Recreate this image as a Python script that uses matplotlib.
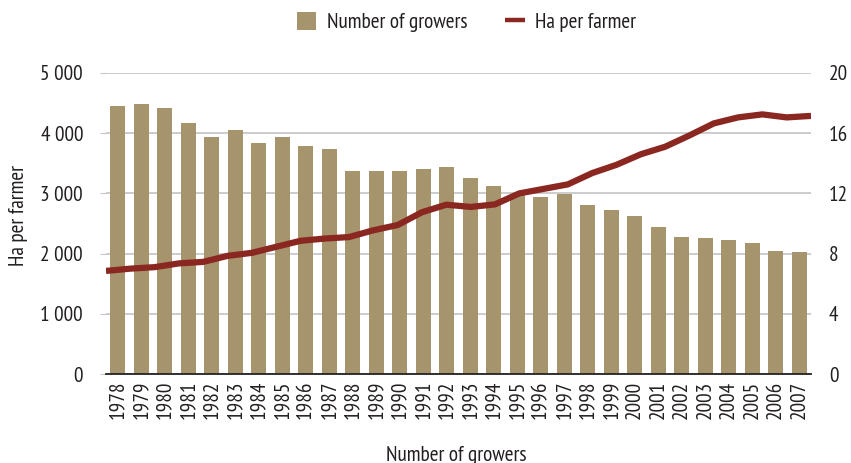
import matplotlib
matplotlib.use("Agg")
import matplotlib.pyplot as plt
from matplotlib.lines import Line2D
from matplotlib.patches import Patch
import numpy as np

plt.rcParams['font.family'] = ['PT Sans Narrow', 'DejaVu Sans']

years = [str(y) for y in range(1978, 2008)]
growers = [4460, 4480, 4420, 4170, 3940, 4060, 3830, 3940, 3790, 3730,
           3380, 3380, 3380, 3410, 3440, 3250, 3130, 2990, 2945, 2995,
           2800, 2730, 2630, 2450, 2280, 2265, 2230, 2180, 2050, 2030]
ha_per_farmer = [6.85, 7.0, 7.1, 7.35, 7.45, 7.85, 8.05, 8.45, 8.85, 9.0,
                 9.1, 9.55, 9.9, 10.75, 11.25, 11.1, 11.27, 12.0, 12.3, 12.6,
                 13.35, 13.9, 14.6, 15.1, 15.85, 16.65, 17.05, 17.25, 17.05, 17.15]
left_ticks = [0, 1000, 2000, 3000, 4000, 5000]
left_labels = ['0', '1 000', '2 000', '3 000', '4 000', '5 000']
right_ticks = [0, 4, 8, 12, 16, 20]

BAR = '#A6956C'
LINE = '#8A2720'
TXT = '#231F20'
GRID = '#C8C8C8'
FS = 15.3

W, H = 851, 463
fig = plt.figure(figsize=(W / 100, H / 100), dpi=100)
pos = [106 / W, 1 - 374 / H, (811 - 106) / W, (374 - 73) / H]
ax = fig.add_axes(pos)
x = np.arange(len(years))
ax.bar(x, growers, width=0.64, color=BAR, zorder=2)
ax.set_xlim(-0.5, len(years) - 0.5)
ax.set_ylim(0, 5000)
ax.set_yticks(left_ticks)
ax.set_yticklabels(left_labels)
ax.set_xticks(x)
ax.set_xticklabels(years, rotation=90)
ax.tick_params(axis='x', length=0, pad=5, labelsize=FS, labelcolor=TXT)
ax.tick_params(axis='y', length=4, color=GRID, pad=12.5, labelsize=FS, labelcolor=TXT)
ax.grid(axis='y', color=GRID, linewidth=1.3, zorder=0)
ax.set_axisbelow(True)
for s in ['top', 'right', 'left']:
    ax.spines[s].set_visible(False)
ax.spines['bottom'].set_color('#222222')
ax.spines['bottom'].set_linewidth(1.3)
ax.set_ylabel('Ha per farmer', fontsize=FS, color=TXT)
ax.yaxis.set_label_coords(-78 / (811 - 106), (374 - 216) / (374 - 73))

ax2 = fig.add_axes(pos, frameon=False)
xl = np.arange(len(ha_per_farmer))
ax2.plot(xl, ha_per_farmer, color=LINE, linewidth=4.5, solid_capstyle='butt', zorder=3)
ax2.set_xlim(0, len(ha_per_farmer) - 1)
ax2.set_ylim(0, 20)
ax2.set_xticks([])
ax2.yaxis.tick_right()
ax2.set_yticks(right_ticks)
ax2.tick_params(axis='y', length=0, pad=13, labelsize=FS, labelcolor=TXT)

fig.text(456 / W, 1 - 446 / H, 'Number of growers', ha='center', va='top',
         fontsize=FS, color=TXT)

handles = [Patch(facecolor=BAR, edgecolor='none'),
           Line2D([0], [0], color=LINE, linewidth=3.2, solid_capstyle='butt')]
fig.legend(handles, ['Number of growers', 'Ha per farmer'], loc='center',
           bbox_to_anchor=(466.5 / W, 1 - 22 / H),
           ncol=2, frameon=False, fontsize=FS, labelcolor=TXT,
           handlelength=0.9, handleheight=0.9, columnspacing=1.8, handletextpad=0.5)

fig.savefig('out.png', dpi=100)
